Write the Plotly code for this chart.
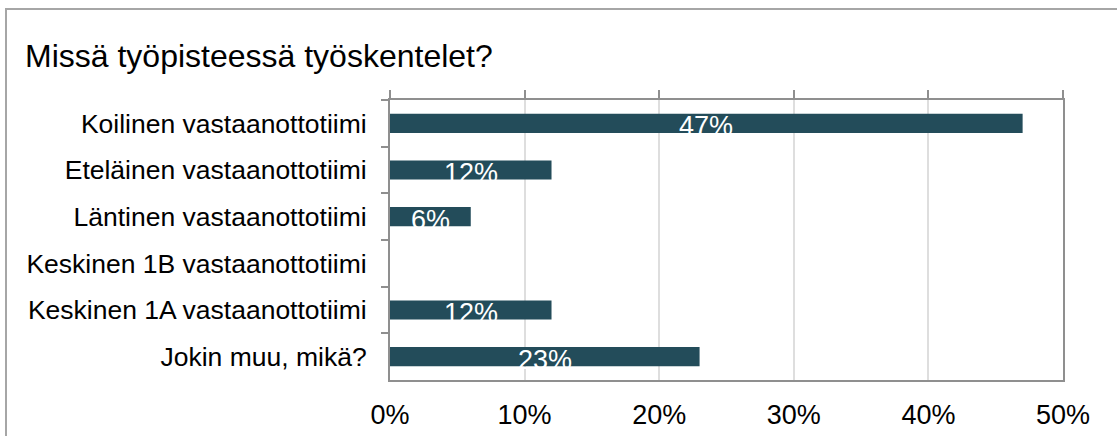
import plotly.graph_objects as go

# Survey: which workplace unit the respondent works in (share of answers, %)
categories = [
    "Koilinen vastaanottotiimi",
    "Eteläinen vastaanottotiimi",
    "Läntinen vastaanottotiimi",
    "Keskinen 1B vastaanottotiimi",
    "Keskinen 1A vastaanottotiimi",
    "Jokin muu, mikä?",
]
shares = [47, 12, 6, 0, 12, 23]
tick_values = [0, 10, 20, 30, 40, 50]
tick_labels = ["0%", "10%", "20%", "30%", "40%", "50%"]
title_text = "Missä työpisteessä työskentelet?"

W, H = 1117, 436
ML, MR, MT, MB = 390, 54, 100, 56
FONT = "Liberation Sans, Arial, sans-serif"
BAR = "#234c5a"
FRAME = "#8f8f8f"
GRID = "#dedede"

fig = go.Figure()
fig.add_trace(go.Bar(
    y=categories, x=shares, orientation="h",
    marker=dict(color=BAR, line=dict(width=0)),
    width=0.41, hoverinfo="skip", showlegend=False,
))
# invisible companion trace so the top tick axis is drawn
fig.add_trace(go.Scatter(
    y=categories, x=shares, xaxis="x2", mode="markers",
    marker=dict(opacity=0), hoverinfo="skip", showlegend=False,
))

# value labels, white, centred on each bar
for cat, v in zip(categories, shares):
    if v > 0:
        fig.add_annotation(
            x=v / 2, y=cat, text=f"{v}%", showarrow=False,
            font=dict(family=FONT, size=27, color="white"),
            xanchor="center", yanchor="middle", yshift=-3,
        )

pw = W - ML - MR
ph = H - MT - MB
# light outer frame around the whole chart
fig.add_shape(
    type="rect", xref="paper", yref="paper",
    x0=(6 - ML) / pw, x1=(W + 20 - ML) / pw,
    y0=(H - MB - (H + 20)) / ph, y1=(H - MB - 9) / ph,
    line=dict(color="#a6a6a6", width=2), fillcolor="rgba(0,0,0,0)", layer="below",
)

fig.update_layout(
    width=W, height=H,
    margin=dict(l=ML, r=MR, t=MT, b=MB, autoexpand=False),
    paper_bgcolor="white", plot_bgcolor="white",
    font=dict(family=FONT, color="black"),
    bargap=0.59,
    title=dict(
        text=title_text, xref="container", yref="container",
        x=25 / W, xanchor="left", y=1 - 56 / H, yanchor="middle",
        font=dict(family=FONT, size=32, color="black"),
    ),
    xaxis=dict(
        range=[0, 50], tickvals=tick_values, ticktext=tick_labels,
        showgrid=True, gridcolor=GRID, gridwidth=1.5,
        showline=True, linecolor=FRAME, linewidth=2,
        ticks="outside", ticklen=10, tickcolor="rgba(0,0,0,0)",
        tickfont=dict(family=FONT, size=27, color="black"),
        zeroline=False, fixedrange=True,
    ),
    xaxis2=dict(
        range=[0, 50], tickvals=tick_values, overlaying="x", side="top",
        showgrid=False, showline=True, linecolor=FRAME, linewidth=2,
        ticks="outside", ticklen=8, tickcolor=FRAME, tickwidth=1.5,
        showticklabels=False, zeroline=False, fixedrange=True,
    ),
    yaxis=dict(
        autorange="reversed", showgrid=False,
        showline=True, linecolor=FRAME, linewidth=2, mirror=True,
        ticks="outside", tickson="boundaries", ticklen=7,
        tickcolor=FRAME, tickwidth=1.5,
        tickfont=dict(family=FONT, size=26.5, color="black"),
        ticklabelstandoff=16, fixedrange=True,
    ),
)

fig.write_html("out.html")
